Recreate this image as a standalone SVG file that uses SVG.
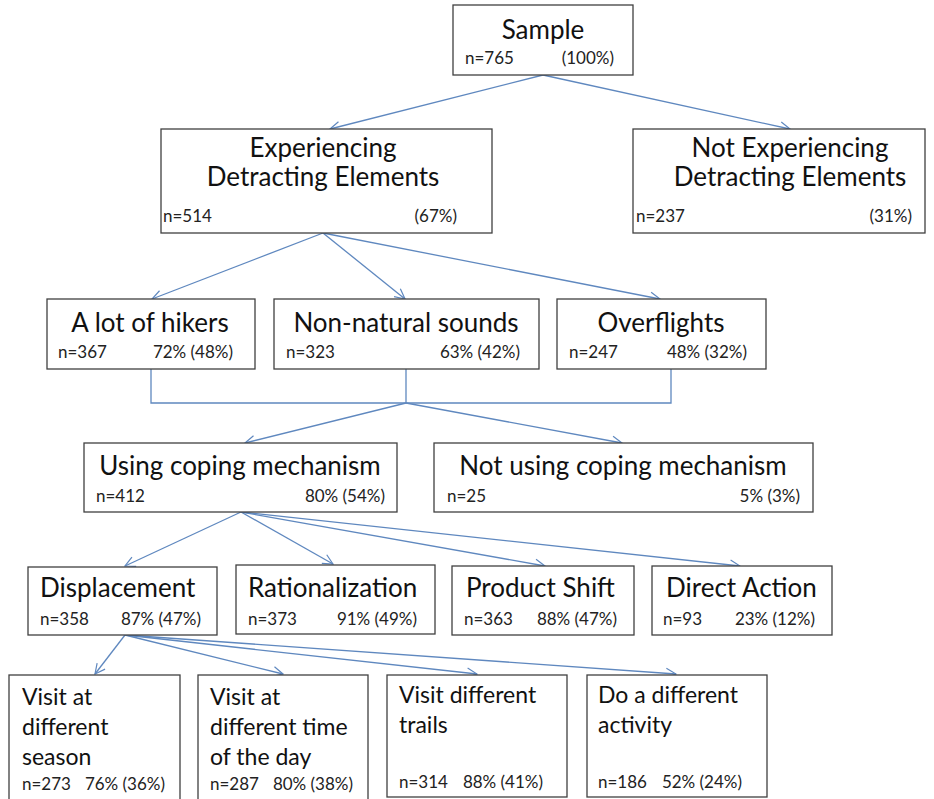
<svg xmlns="http://www.w3.org/2000/svg" width="934" height="799" viewBox="0 0 934 799">
<style>
.box{fill:#fff;stroke:#404040;stroke-width:1.3}
.t{font-family:Lato,"Open Sans","Liberation Sans",sans-serif;font-size:26px;fill:#111}
.t6{font-family:Lato,"Open Sans","Liberation Sans",sans-serif;font-size:23px;fill:#111}
.s{font-family:Lato,"Open Sans","Liberation Sans",sans-serif;font-size:17px;fill:#222}
.c{fill:none;stroke:#5f88bf;stroke-width:1.3}
.m{text-anchor:middle}
.e{text-anchor:end}
</style>
<defs>
<marker id="arr" viewBox="0 0 12 12" refX="11" refY="6" markerWidth="12" markerHeight="12" markerUnits="userSpaceOnUse" orient="auto">
<path d="M1,1 L11,6 L1,11" fill="none" stroke="#5f88bf" stroke-width="1.2"/>
</marker>
</defs>
<g id="connectors">
<line class="c" x1="543" y1="75" x2="330" y2="129" marker-end="url(#arr)"/>
<line class="c" x1="543" y1="75" x2="790" y2="129" marker-end="url(#arr)"/>
<line class="c" x1="323" y1="233" x2="152" y2="299" marker-end="url(#arr)"/>
<line class="c" x1="323" y1="233" x2="405" y2="299" marker-end="url(#arr)"/>
<line class="c" x1="323" y1="233" x2="660" y2="299" marker-end="url(#arr)"/>
<polyline class="c" points="151,369 151,403 671,403 671,369"/>
<line class="c" x1="406" y1="369" x2="406" y2="403"/>
<line class="c" x1="406" y1="403" x2="245" y2="443" marker-end="url(#arr)"/>
<line class="c" x1="406" y1="403" x2="622" y2="443" marker-end="url(#arr)"/>
<line class="c" x1="241" y1="512" x2="125" y2="566" marker-end="url(#arr)"/>
<line class="c" x1="241" y1="512" x2="333" y2="564" marker-end="url(#arr)"/>
<line class="c" x1="241" y1="512" x2="545" y2="566" marker-end="url(#arr)"/>
<line class="c" x1="241" y1="512" x2="740" y2="566" marker-end="url(#arr)"/>
<line class="c" x1="125" y1="635" x2="95" y2="674" marker-end="url(#arr)"/>
<line class="c" x1="125" y1="635" x2="283" y2="674" marker-end="url(#arr)"/>
<line class="c" x1="125" y1="635" x2="477" y2="674" marker-end="url(#arr)"/>
<line class="c" x1="125" y1="635" x2="676" y2="674" marker-end="url(#arr)"/>
</g>
<g id="sample">
<rect class="box" x="453" y="5" width="180" height="70"/>
<text class="t m" x="543" y="39">Sample</text>
<text class="s" x="465" y="64">n=765</text>
<text class="s e" x="614" y="64">(100%)</text>
</g>
<g id="experiencing">
<rect class="box" x="161" y="129" width="331" height="104"/>
<text class="t m" x="323" y="157">Experiencing</text>
<text class="t m" x="323" y="186">Detracting Elements</text>
<text class="s" x="163" y="222">n=514</text>
<text class="s e" x="457" y="222">(67%)</text>
</g>
<g id="not-experiencing">
<rect class="box" x="633" y="129" width="292" height="104"/>
<text class="t m" x="790" y="157">Not Experiencing</text>
<text class="t m" x="790" y="186">Detracting Elements</text>
<text class="s" x="636" y="222">n=237</text>
<text class="s e" x="912" y="222">(31%)</text>
</g>
<g id="hikers">
<rect class="box" x="47" y="299" width="208" height="70"/>
<text class="t m" x="150" y="332">A lot of hikers</text>
<text class="s" x="58" y="358">n=367</text>
<text class="s e" x="233" y="358">72% (48%)</text>
</g>
<g id="sounds">
<rect class="box" x="274" y="299" width="265" height="70"/>
<text class="t m" x="406" y="332">Non-natural sounds</text>
<text class="s" x="286" y="358">n=323</text>
<text class="s e" x="520" y="358">63% (42%)</text>
</g>
<g id="overflights">
<rect class="box" x="557" y="299" width="209" height="70"/>
<text class="t m" x="661" y="332">Overflights</text>
<text class="s" x="569" y="358">n=247</text>
<text class="s e" x="747" y="358">48% (32%)</text>
</g>
<g id="coping">
<rect class="box" x="84" y="443" width="313" height="69"/>
<text class="t m" x="240" y="475">Using coping mechanism</text>
<text class="s" x="96" y="502">n=412</text>
<text class="s e" x="385" y="502">80% (54%)</text>
</g>
<g id="not-coping">
<rect class="box" x="434" y="443" width="379" height="69"/>
<text class="t m" x="623" y="475">Not using coping mechanism</text>
<text class="s" x="447" y="502">n=25</text>
<text class="s e" x="800" y="502">5% (3%)</text>
</g>
<g id="displacement">
<rect class="box" x="28" y="567" width="189" height="68"/>
<text class="t" x="40" y="597">Displacement</text>
<text class="s" x="40" y="625">n=358</text>
<text class="s e" x="201" y="625">87% (47%)</text>
</g>
<g id="rationalization">
<rect class="box" x="236" y="565" width="199" height="69"/>
<text class="t" x="248" y="597">Rationalization</text>
<text class="s" x="248" y="625">n=373</text>
<text class="s e" x="417" y="625">91% (49%)</text>
</g>
<g id="product-shift">
<rect class="box" x="452" y="566" width="182" height="69"/>
<text class="t" x="466" y="597">Product Shift</text>
<text class="s" x="464" y="625">n=363</text>
<text class="s e" x="617" y="625">88% (47%)</text>
</g>
<g id="direct-action">
<rect class="box" x="652" y="566" width="180" height="69"/>
<text class="t" x="666" y="597">Direct Action</text>
<text class="s" x="663" y="625">n=93</text>
<text class="s e" x="815" y="625">23% (12%)</text>
</g>
<g id="season">
<rect class="box" x="9" y="675" width="171" height="130"/>
<text class="t6" x="22" y="705">Visit at</text>
<text class="t6" x="22" y="735">different</text>
<text class="t6" x="22" y="765">season</text>
<text class="s" x="22" y="790">n=273</text>
<text class="s e" x="165" y="790">76% (36%)</text>
</g>
<g id="time">
<rect class="box" x="198" y="675" width="170" height="130"/>
<text class="t6" x="210" y="705">Visit at</text>
<text class="t6" x="210" y="735">different time</text>
<text class="t6" x="210" y="765">of the day</text>
<text class="s" x="210" y="790">n=287</text>
<text class="s e" x="353" y="790">80% (38%)</text>
</g>
<g id="trails">
<rect class="box" x="387" y="675" width="180" height="122"/>
<text class="t6" x="399" y="703">Visit different</text>
<text class="t6" x="399" y="733">trails</text>
<text class="s" x="399" y="788">n=314</text>
<text class="s e" x="543" y="788">88% (41%)</text>
</g>
<g id="activity">
<rect class="box" x="587" y="675" width="180" height="122"/>
<text class="t6" x="598" y="703">Do a different</text>
<text class="t6" x="598" y="733">activity</text>
<text class="s" x="598" y="788">n=186</text>
<text class="s e" x="742" y="788">52% (24%)</text>
</g>
</svg>
